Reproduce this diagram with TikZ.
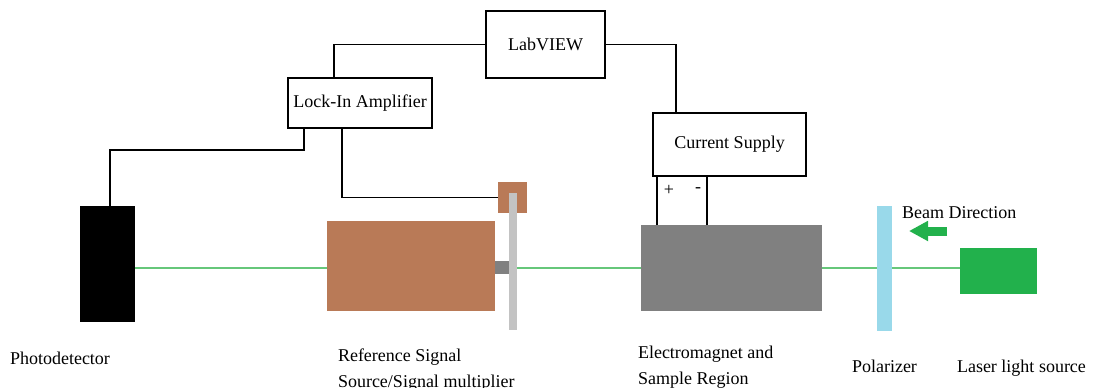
\documentclass[tikz,border=0pt]{standalone}
\usepackage{fontspec}
\setmainfont{Liberation Serif}
\usetikzlibrary{positioning,arrows.meta,calc}
\definecolor{brownpart}{HTML}{B97A57}
\definecolor{darkgraypart}{HTML}{808080}
\definecolor{lightgraypart}{HTML}{C3C3C3}
\definecolor{polblue}{HTML}{99D9EA}
\definecolor{lasergreen}{HTML}{22B14C}
\definecolor{beamgreen}{HTML}{66C77A}
\tikzset{
  box/.style={draw=black,line width=1.1pt,fill=white,inner sep=0pt,outer sep=0pt,align=center,font=\fontsize{13.5}{16}\selectfont},
  part/.style={draw=none,inner sep=0pt,outer sep=0pt},
  wire/.style={line width=1.1pt,black},
  beam/.style={line width=1.5pt,beamgreen},
  lbl/.style={inner sep=0pt,outer sep=0pt,align=left,font=\fontsize{13.5}{19.5}\selectfont},
  dirarr/.style={-{Triangle[length=14.25pt,width=14.25pt]},line width=6.75pt,lasergreen},
}
\begin{document}
\begin{tikzpicture}[x=0.75pt,y=-0.75pt]
  \useasboundingbox (0,0) rectangle (1096,387);
  % control boxes
  \node[box,minimum width=89.25pt,minimum height=50.25pt] (labview) at (545.5,44.5) {LabVIEW};
  \node[box,minimum width=108pt,minimum height=37.5pt] (lockin) at (360,103) {Lock-In Amplifier};
  \node[box,minimum width=114.75pt,minimum height=47.25pt] (supply) at (729.5,144.5) {Current Supply};
  % optical parts
  \node[part,fill=black,minimum width=41.25pt,minimum height=87pt] (photodet) at (107.5,264) {};
  \node[part,fill=brownpart,minimum width=126pt,minimum height=67.5pt] (refsrc) at (411,266) {};
  \node[part,fill=darkgraypart,minimum width=10.5pt,minimum height=9.75pt] (shaft) at (502,267.5) {};
  \node[part,fill=brownpart,minimum width=21.75pt,minimum height=23.25pt] (chopbox) at (512.5,197.5) {};
  \node[part,fill=lightgraypart,minimum width=6pt,minimum height=102.75pt] (chopbar) at (513,261.5) {};
  \node[part,fill=darkgraypart,minimum width=135.75pt,minimum height=64.5pt] (magnet) at (731.5,268) {};
  \node[part,fill=lasergreen,minimum width=57.75pt,minimum height=34.5pt] (laser) at (998.5,271) {};
  \coordinate (beamy) at (0,268);
  % beam
  \draw[beam] (photodet.east |- beamy) -- (refsrc.west |- beamy);
  \draw[beam] (chopbar.east |- beamy) -- (magnet.west |- beamy);
  \draw[beam] (magnet.east |- beamy) -- (laser.west |- beamy);
  \node[part,fill=polblue,minimum width=11.25pt,minimum height=93.75pt] (polarizer) at (884.5,268.5) {};
  % wiring
  \draw[wire] (labview.west) -| ($(lockin.north west)+(46,0)$);
  \draw[wire] (labview.east) -| ($(supply.north west)+(23,0)$);
  \draw[wire] ($(lockin.south west)+(16,0)$) |- ($(photodet.north)+(2.5,-56)$) -- ($(photodet.north)+(2.5,0)$);
  \draw[wire] ($(lockin.south west)+(54,0)$) |- (chopbox.west);
  \draw[wire] ($(supply.south west)+(4,0)$) -- ($(supply.south west |- magnet.north)+(4,0)$);
  \draw[wire] ($(supply.south west)+(54,0)$) -- ($(supply.south west |- magnet.north)+(54,0)$);
  \node[lbl] (plus) at (669,190) {+};
  \node[lbl] (minus) at (698,190) {-};
  % beam direction
  \coordinate (arrtail) at (947,231);
  \draw[dirarr] (arrtail) -- ++(-38,0);
  \node[lbl,anchor=base west] (dirlbl) at (902,218) {Beam Direction};
  % labels
  \node[lbl,anchor=base west] (photolbl) at (10,364) {Photodetector};
  \node[lbl,anchor=north west] (reflbl) at (338,349) {Reference Signal\\Source/Signal multiplier};
  \node[lbl,anchor=north west] (maglbl) at (638,346) {Electromagnet and\\Sample Region};
  \node[lbl,anchor=base west] (pollbl) at (852,372) {Polarizer};
  \node[lbl,anchor=base west] (laserlbl) at (957,372) {Laser light source};
\end{tikzpicture}
\end{document}
